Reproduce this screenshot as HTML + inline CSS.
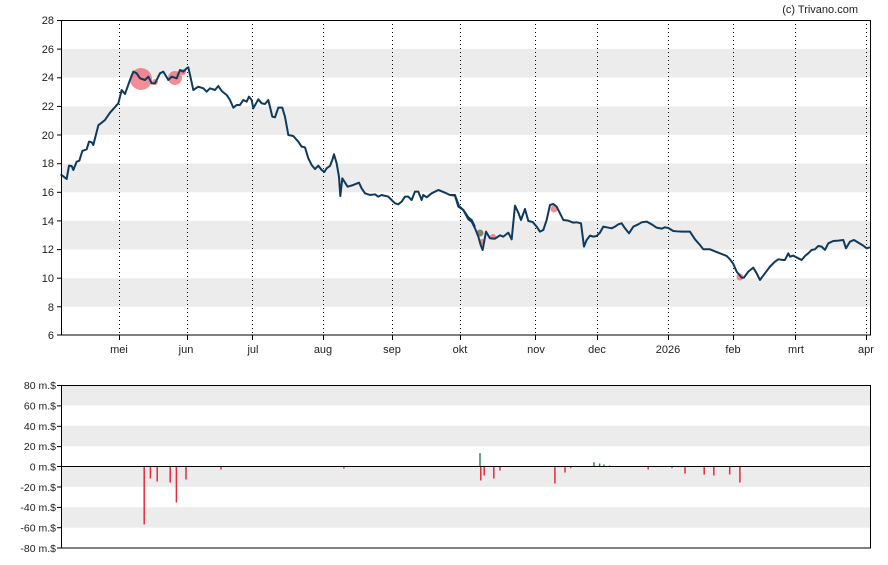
<!DOCTYPE html>
<html><head><meta charset="utf-8"><style>
body{margin:0;background:#fff;}
svg{display:block;font-family:"Liberation Sans",sans-serif;}
</style></head><body>
<svg width="888" height="565" viewBox="0 0 888 565">
<text x="858" y="13" font-size="11" text-anchor="end" fill="#222">(c) Trivano.com</text>
<!-- main chart bands -->
<g fill="#ececec">
<rect x="61" y="49" width="809" height="28.6"/>
<rect x="61" y="106.3" width="809" height="28.6"/>
<rect x="61" y="163.6" width="809" height="28.6"/>
<rect x="61" y="220.9" width="809" height="28.6"/>
<rect x="61" y="278.2" width="809" height="28.6"/>
</g>
<g stroke="#000" stroke-width="1" stroke-dasharray="1,3">
<line x1="119.5" y1="20" x2="119.5" y2="335"/><line x1="187.5" y1="20" x2="187.5" y2="335"/>
<line x1="252.5" y1="20" x2="252.5" y2="335"/><line x1="323.5" y1="20" x2="323.5" y2="335"/>
<line x1="392.5" y1="20" x2="392.5" y2="335"/><line x1="460.5" y1="20" x2="460.5" y2="335"/>
<line x1="535.5" y1="20" x2="535.5" y2="335"/><line x1="597.5" y1="20" x2="597.5" y2="335"/>
<line x1="668.5" y1="20" x2="668.5" y2="335"/><line x1="733.5" y1="20" x2="733.5" y2="335"/>
<line x1="795.5" y1="20" x2="795.5" y2="335"/><line x1="866.5" y1="20" x2="866.5" y2="335"/>
</g>
<g fill="#f0505f" fill-opacity="0.65">
<circle cx="141" cy="79" r="11"/><circle cx="175" cy="78" r="7"/><circle cx="155" cy="82" r="3"/><circle cx="183" cy="72" r="3"/>
<circle cx="482" cy="242" r="3"/><circle cx="493" cy="237" r="3"/><circle cx="554" cy="209" r="3.5"/><circle cx="740" cy="277" r="3.5"/>
</g>
<circle cx="480" cy="233" r="3.5" fill="#6b6b50" fill-opacity="0.8"/>
<g fill="none" stroke="#0f3a5c" stroke-width="2" stroke-linejoin="round">
<g transform="translate(55,10) scale(0.3333)"><polyline vector-effect="non-scaling-stroke" points="17,493 35,507 42,467 50,468 55,480 65,455 73,452 82,423 95,418 102,395 110,397 115,405 130,346 150,330 165,308 190,280 200,240 210,252 225,210 235,185 245,190 255,205 270,210 280,200 290,220 300,220 315,190 325,185 340,210 350,200 365,205 375,180 385,185 395,175 400,172 415,240 430,230 445,235 455,245 465,235 480,240 490,228 500,243 515,255 525,270 535,293 545,285 555,285 565,270 575,275 582,260 590,270 595,295 610,268 620,280 630,282 640,270 652,320 660,322 670,293 682,293 690,320 700,375 715,378 730,395 740,410 750,412 760,445 770,465 780,477 790,467 800,480 808,486 815,475 825,468 832,450 837,433 845,460 852,500 856,558 862,505 878,530 895,525 912,518 920,535 930,550 945,555 960,553 970,560 980,555 1000,560 1010,570 1020,580 1030,583 1040,575 1050,560 1060,560 1070,570 1080,545 1090,545 1100,570 1105,555 1115,562 1130,550 1150,540 1170,548 1185,555 1200,555 1212,588 1225,600 1240,622 1250,630 1260,650"/></g>
<g transform="translate(450,10) scale(0.3333)"><polyline vector-effect="non-scaling-stroke" points="0,555 15,557 25,590 40,600 55,628 65,635 75,655 85,680 92,705 98,720 108,665 120,685 135,686 150,676 160,680 175,668 185,688 195,587 205,608 213,630 225,597 235,633 248,636 260,650 270,665 280,660 290,630 300,585 310,582 320,590 340,630 355,632 370,638 380,637 393,640 402,710 410,690 420,677 430,680 440,678 450,668 460,650 470,652 485,655 495,650 505,643 515,640 525,655 537,670 550,650 565,643 575,637 590,635 605,643 620,653 635,656 645,652 655,654 670,663 680,664 695,665 720,665 735,688 750,705 760,718 780,718 790,722 810,730 830,738 840,748 850,762 860,785 875,803 882,803 895,785 910,773 920,790 930,810 945,790 960,770 975,755 985,748 1000,750 1005,750 1015,730 1020,740 1030,737 1045,745 1055,750 1065,738 1075,730 1085,720 1095,718 1105,708 1115,710 1125,720 1135,700 1150,693 1165,692 1180,690 1188,715 1200,695 1212,690 1225,698 1240,707 1250,715 1260,712"/></g>
</g>
<rect x="61.5" y="20.5" width="809" height="314.5" fill="none" stroke="#000"/>
<g stroke="#000">
<line x1="57" y1="20.5" x2="61" y2="20.5"/><line x1="57" y1="49.1" x2="61" y2="49.1"/><line x1="57" y1="77.8" x2="61" y2="77.8"/><line x1="57" y1="106.4" x2="61" y2="106.4"/><line x1="57" y1="135" x2="61" y2="135"/><line x1="57" y1="163.7" x2="61" y2="163.7"/><line x1="57" y1="192.3" x2="61" y2="192.3"/><line x1="57" y1="220.9" x2="61" y2="220.9"/><line x1="57" y1="249.6" x2="61" y2="249.6"/><line x1="57" y1="278.2" x2="61" y2="278.2"/><line x1="57" y1="306.8" x2="61" y2="306.8"/><line x1="57" y1="335" x2="61" y2="335"/>
<line x1="119.5" y1="335" x2="119.5" y2="340"/><line x1="187.5" y1="335" x2="187.5" y2="340"/><line x1="252.5" y1="335" x2="252.5" y2="340"/><line x1="323.5" y1="335" x2="323.5" y2="340"/><line x1="392.5" y1="335" x2="392.5" y2="340"/><line x1="460.5" y1="335" x2="460.5" y2="340"/><line x1="535.5" y1="335" x2="535.5" y2="340"/><line x1="597.5" y1="335" x2="597.5" y2="340"/><line x1="668.5" y1="335" x2="668.5" y2="340"/><line x1="733.5" y1="335" x2="733.5" y2="340"/><line x1="795.5" y1="335" x2="795.5" y2="340"/><line x1="866.5" y1="335" x2="866.5" y2="340"/>
</g>
<g font-size="11" fill="#222" text-anchor="end">
<text x="54" y="24">28</text><text x="54" y="53">26</text><text x="54" y="81">24</text><text x="54" y="110">22</text><text x="54" y="139">20</text><text x="54" y="167">18</text><text x="54" y="196">16</text><text x="54" y="225">14</text><text x="54" y="253">12</text><text x="54" y="282">10</text><text x="54" y="311">8</text><text x="54" y="339">6</text>
</g>
<g font-size="11" fill="#222" text-anchor="middle">
<text x="119" y="353">mei</text><text x="186" y="353">jun</text><text x="253" y="353">jul</text><text x="323" y="353">aug</text><text x="392" y="353">sep</text><text x="460" y="353">okt</text><text x="536" y="353">nov</text><text x="597" y="353">dec</text><text x="668" y="353">2026</text><text x="733" y="353">feb</text><text x="796" y="353">mrt</text><text x="866" y="353">apr</text>
</g>
<!-- bottom chart -->
<g fill="#ececec">
<rect x="61" y="385" width="809" height="20.4"/>
<rect x="61" y="425.8" width="809" height="20.4"/>
<rect x="61" y="466.5" width="809" height="20.4"/>
<rect x="61" y="507.3" width="809" height="20.4"/>
</g>
<g stroke="#e8283c" stroke-width="1.5">
<line x1="144.2" y1="466.5" x2="144.2" y2="524.4"/><line x1="150.4" y1="466.5" x2="150.4" y2="478.5"/><line x1="157.2" y1="466.5" x2="157.2" y2="481.5"/><line x1="170.2" y1="466.5" x2="170.2" y2="482.5"/><line x1="176.4" y1="466.5" x2="176.4" y2="502.4"/><line x1="186" y1="466.5" x2="186" y2="479.5"/><line x1="221" y1="466.5" x2="221" y2="469.5"/><line x1="343.9" y1="466.5" x2="343.9" y2="468.5"/><line x1="480.8" y1="466.5" x2="480.8" y2="480.5"/><line x1="484.2" y1="466.5" x2="484.2" y2="475.5"/><line x1="493.8" y1="466.5" x2="493.8" y2="478.5"/><line x1="500" y1="466.5" x2="500" y2="470.5"/><line x1="554.9" y1="466.5" x2="554.9" y2="483.5"/><line x1="565" y1="466.5" x2="565" y2="472.5"/><line x1="570.7" y1="466.5" x2="570.7" y2="468.2"/><line x1="648.2" y1="466.5" x2="648.2" y2="469.5"/><line x1="672" y1="466.5" x2="672" y2="468.2"/><line x1="685" y1="466.5" x2="685" y2="473.5"/><line x1="704.2" y1="466.5" x2="704.2" y2="474.5"/><line x1="713.8" y1="466.5" x2="713.8" y2="475.5"/><line x1="729.7" y1="466.5" x2="729.7" y2="474.5"/><line x1="739.9" y1="466.5" x2="739.9" y2="482.5"/>
</g>
<g stroke="#2e8b4a" stroke-width="1.5">
<line x1="480" y1="466.5" x2="480" y2="453.2"/><line x1="594" y1="466.5" x2="594" y2="462.2"/><line x1="599.6" y1="466.5" x2="599.6" y2="463.5"/><line x1="604" y1="466.5" x2="604" y2="464.5"/><line x1="609.7" y1="466.5" x2="609.7" y2="465.5"/>
</g>
<line x1="61" y1="466.5" x2="870" y2="466.5" stroke="#000"/>
<rect x="61.5" y="385.5" width="809" height="162.5" fill="none" stroke="#000"/>
<g stroke="#000">
<line x1="57" y1="385.5" x2="61" y2="385.5"/><line x1="57" y1="405.9" x2="61" y2="405.9"/><line x1="57" y1="426.3" x2="61" y2="426.3"/><line x1="57" y1="446.6" x2="61" y2="446.6"/><line x1="57" y1="466.5" x2="61" y2="466.5"/><line x1="57" y1="487" x2="61" y2="487"/><line x1="57" y1="507.4" x2="61" y2="507.4"/><line x1="57" y1="527.7" x2="61" y2="527.7"/><line x1="57" y1="548" x2="61" y2="548"/>
</g>
<g font-size="10.5" fill="#222" text-anchor="end">
<text x="56" y="389">80 m.$</text><text x="56" y="409.5">60 m.$</text><text x="56" y="430">40 m.$</text><text x="56" y="450">20 m.$</text><text x="56" y="470.5">0 m.$</text><text x="56" y="491">-20 m.$</text><text x="56" y="511">-40 m.$</text><text x="56" y="531.5">-60 m.$</text><text x="56" y="552">-80 m.$</text>
</g>
</svg>
</body></html>
